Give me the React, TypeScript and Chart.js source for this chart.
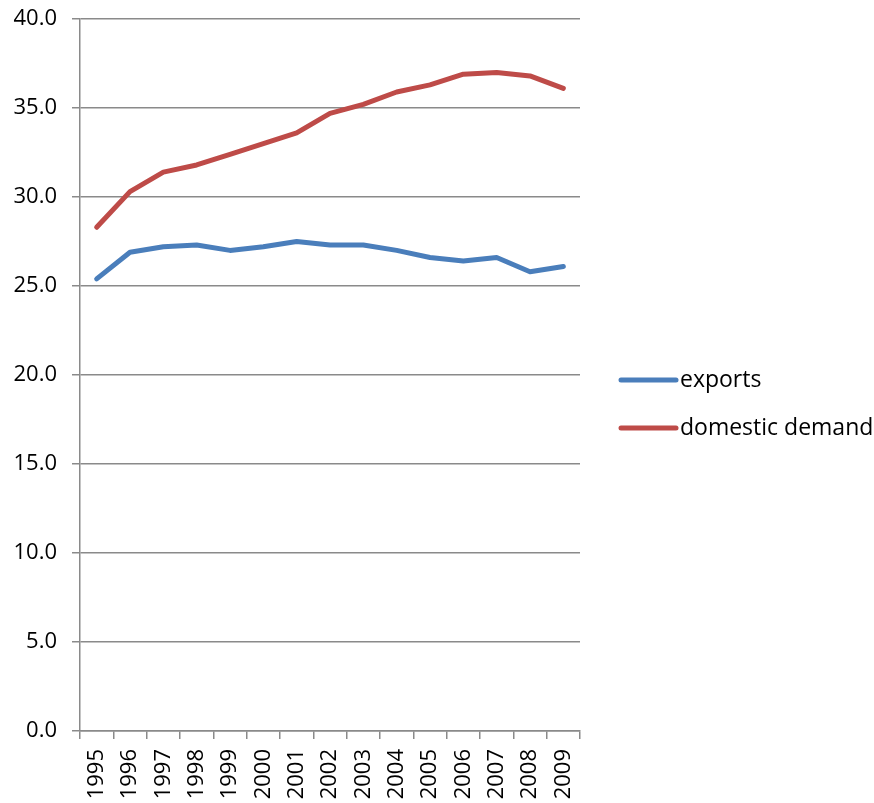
import React, { useEffect, useRef } from "react";
import { Chart, registerables } from "chart.js";

Chart.register(...registerables);

// Years on the category axis
const years = [
  "1995", "1996", "1997", "1998", "1999", "2000", "2001", "2002",
  "2003", "2004", "2005", "2006", "2007", "2008", "2009",
];

// Series values
const exportsShare = [
  25.4, 26.9, 27.2, 27.3, 27.0, 27.2, 27.5, 27.3, 27.3, 27.0, 26.6, 26.4, 26.6, 25.8, 26.1,
];
const domesticDemandShare = [
  28.3, 30.3, 31.4, 31.8, 32.4, 33.0, 33.6, 34.7, 35.2, 35.9, 36.3, 36.9, 37.0, 36.8, 36.1,
];

const seriesNames = ["exports", "domestic demand"];
const seriesColors = ["#4a7ebb", "#be4b48"];

// Value axis range
const yMin = 0;
const yMax = 40;
const yStep = 5;

const FONT = "'Open Sans', sans-serif";
const FONT_SIZE = 22;
const GRID = "#8a8a8a";

// Legend drawn at the right of the plot, centred on it vertically
const sideLegend = {
  id: "sideLegend",
  afterDraw(chart: any) {
    const { ctx, chartArea } = chart;
    const mid = (chartArea.top + chartArea.bottom) / 2;
    const x0 = chartArea.right + 41;
    ctx.save();
    chart.data.datasets.forEach((ds: any, i: number) => {
      const y = mid + 5 + i * 48;
      ctx.strokeStyle = ds.borderColor;
      ctx.lineWidth = 5;
      ctx.lineCap = "round";
      ctx.beginPath();
      ctx.moveTo(x0, y);
      ctx.lineTo(x0 + 55, y);
      ctx.stroke();
      ctx.fillStyle = "#000";
      ctx.font = `${FONT_SIZE + 1}px ${FONT}`;
      ctx.textBaseline = "middle";
      ctx.textAlign = "left";
      ctx.fillText(ds.label, x0 + 59, y);
    });
    ctx.restore();
  },
};

export default function App() {
  const canvasRef = useRef<HTMLCanvasElement | null>(null);

  useEffect(() => {
    const canvas = canvasRef.current;
    if (!canvas) return;
    const chart = new Chart(canvas, {
      type: "line",
      data: {
        labels: years,
        datasets: [
          {
            label: seriesNames[0],
            data: exportsShare,
            borderColor: seriesColors[0],
            backgroundColor: seriesColors[0],
            borderWidth: 5,
            pointRadius: 0,
            tension: 0,
            borderCapStyle: "round",
            borderJoinStyle: "round",
          },
          {
            label: seriesNames[1],
            data: domesticDemandShare,
            borderColor: seriesColors[1],
            backgroundColor: seriesColors[1],
            borderWidth: 5,
            pointRadius: 0,
            tension: 0,
            borderCapStyle: "round",
            borderJoinStyle: "round",
          },
        ],
      },
      options: {
        responsive: false,
        animation: false,
        layout: { padding: { top: 19, right: 294, left: 0, bottom: 0 } },
        plugins: {
          legend: { display: false },
          tooltip: { enabled: false },
        },
        scales: {
          x: {
            type: "category",
            offset: true,
            afterFit: (s: any) => {
              s.height = 72;
            },
            grid: {
              offset: true,
              drawOnChartArea: false,
              drawTicks: true,
              tickLength: 8,
              color: GRID,
              lineWidth: 1.5,
            },
            border: { display: true, color: GRID, width: 1.5 },
            ticks: {
              minRotation: 90,
              maxRotation: 90,
              autoSkip: false,
              padding: 10,
              color: "#000",
              font: { family: FONT, size: FONT_SIZE },
            },
          },
          y: {
            min: yMin,
            max: yMax,
            afterFit: (s: any) => {
              s.width = 80;
              s.paddingTop = 0;
              s.paddingBottom = 0;
            },
            grid: {
              color: GRID,
              lineWidth: 1.5,
              drawTicks: true,
              tickLength: 8,
            },
            border: { display: true, color: GRID, width: 1.5 },
            ticks: {
              stepSize: yStep,
              padding: 15,
              color: "#000",
              font: { family: FONT, size: FONT_SIZE },
              callback: (v: any) => Number(v).toFixed(1),
            },
          },
        },
      },
      plugins: [sideLegend],
    });
    return () => chart.destroy();
  }, []);

  return (
    <div style={{ position: "fixed", left: 0, top: 0, width: 874, height: 803, background: "#fff" }}>
      <canvas ref={canvasRef} width={874} height={803} />
    </div>
  );
}
